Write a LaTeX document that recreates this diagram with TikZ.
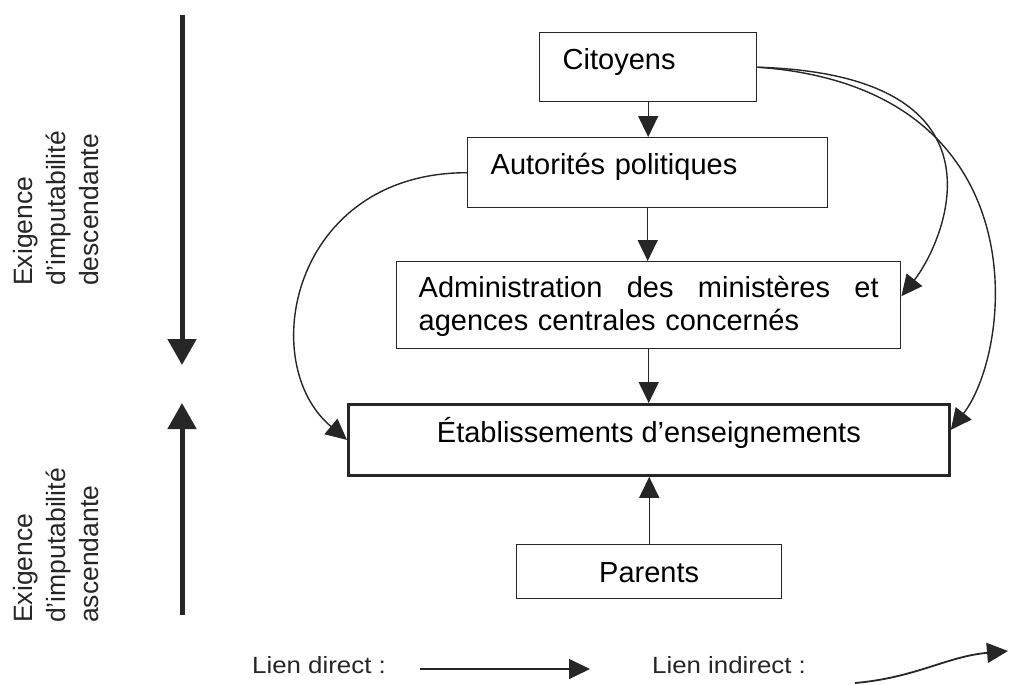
\documentclass[tikz,border=0pt]{standalone}
\usepackage{fontspec}
\setmainfont{Liberation Sans}
\usetikzlibrary{arrows.meta}
\begin{document}
\begin{tikzpicture}[x=1pt,y=1pt,
  boxtext/.style={font=\fontsize{29}{33}\selectfont},
  box/.style={draw=black!85, line width=1.4pt, inner ysep=0pt, boxtext, anchor=north west},
  arr/.style={draw=black!85, line width=1.4pt, -{Triangle[width=20pt,length=21pt]}},
  bigarr/.style={draw=black!85, line width=5pt, -{Triangle[width=28pt,length=26pt]}},
  sidelbl/.style={font=\fontsize{26.5}{33}\selectfont, align=left, rotate=90, inner sep=0pt, anchor=north west, text=black!85},
  leg/.style={font=\fontsize{23.5}{28}\selectfont, xscale=1.1, inner sep=0pt, anchor=base west, text=black!85}
]
\path[use as bounding box] (0,0) rectangle (1009,-685);

% boxes
\node[box, text width=171pt, align=left, inner xsep=23pt, text height=37pt, text depth=32pt] (cit) at (539,-32) {Citoyens};
\node[box, text width=314pt, align=left, inner xsep=23pt, text height=37pt, text depth=33pt] (aut) at (467,-137) {Autorités politiques};
\node[box, text width=460pt, align=left, inner xsep=22pt, text height=36pt, text depth=51pt] (adm) at (396,-261)
  {\leavevmode\hbox to 460pt{Administration\hfill\ des\hfill\ ministères\hfill\ et}\\agences centrales concernés};
\node[box, line width=2.8pt, minimum width=601pt, inner xsep=0pt, text height=38pt, text depth=33pt] (etab) at (347,-403) {Établissements d’enseignements};
\node[box, minimum width=265pt, inner xsep=0pt, text height=38pt, text depth=16pt] (par) at (516,-544) {Parents};

% direct links
\draw[arr] (cit.south) -- (cit.south |- aut.north);
\draw[arr] (aut.south) -- (aut.south |- adm.north);
\draw[arr] (adm.south) -- (adm.south |- etab.north);
\draw[arr] (par.north) -- (par.north |- etab.south);

% indirect links
\draw[arr] (aut.west) .. controls +(-175,0) and +(-92,77) .. (etab.west);
\draw[arr] (cit.east) .. controls +(265,-8) and +(40,50) .. ([yshift=9pt]adm.east);
\draw[arr] (cit.east) .. controls +(285,-20) and +(62,80) .. ([yshift=10pt]etab.east);

% side arrows and labels
\coordinate (dtop) at (182,-15);
\coordinate (dbot) at (182,-365);
\coordinate (ubot) at (182,-615);
\coordinate (utop) at (182,-403);
\draw[bigarr] (dtop) -- (dbot);
\draw[bigarr] (ubot) -- (utop);
\node[sidelbl] (desc) at (13,-286) {Exigence\\d’imputabilité\\descendante};
\node[sidelbl] (asc) at (13,-623) {Exigence\\d’imputabilité\\ascendante};

% legend
\node[leg] (ld) at (252,-673) {Lien direct :};
\coordinate (ld1) at (420,-669);
\coordinate (ld2) at (590,-669);
\draw[arr] (ld1) -- (ld2);
\node[leg] (li) at (652,-673) {Lien indirect :};
\coordinate (li1) at (855,-683);
\coordinate (li2) at (1008,-651);
\draw[arr, line width=1.8pt] (li1) to[out=5,in=185] (li2);
\end{tikzpicture}
\end{document}
